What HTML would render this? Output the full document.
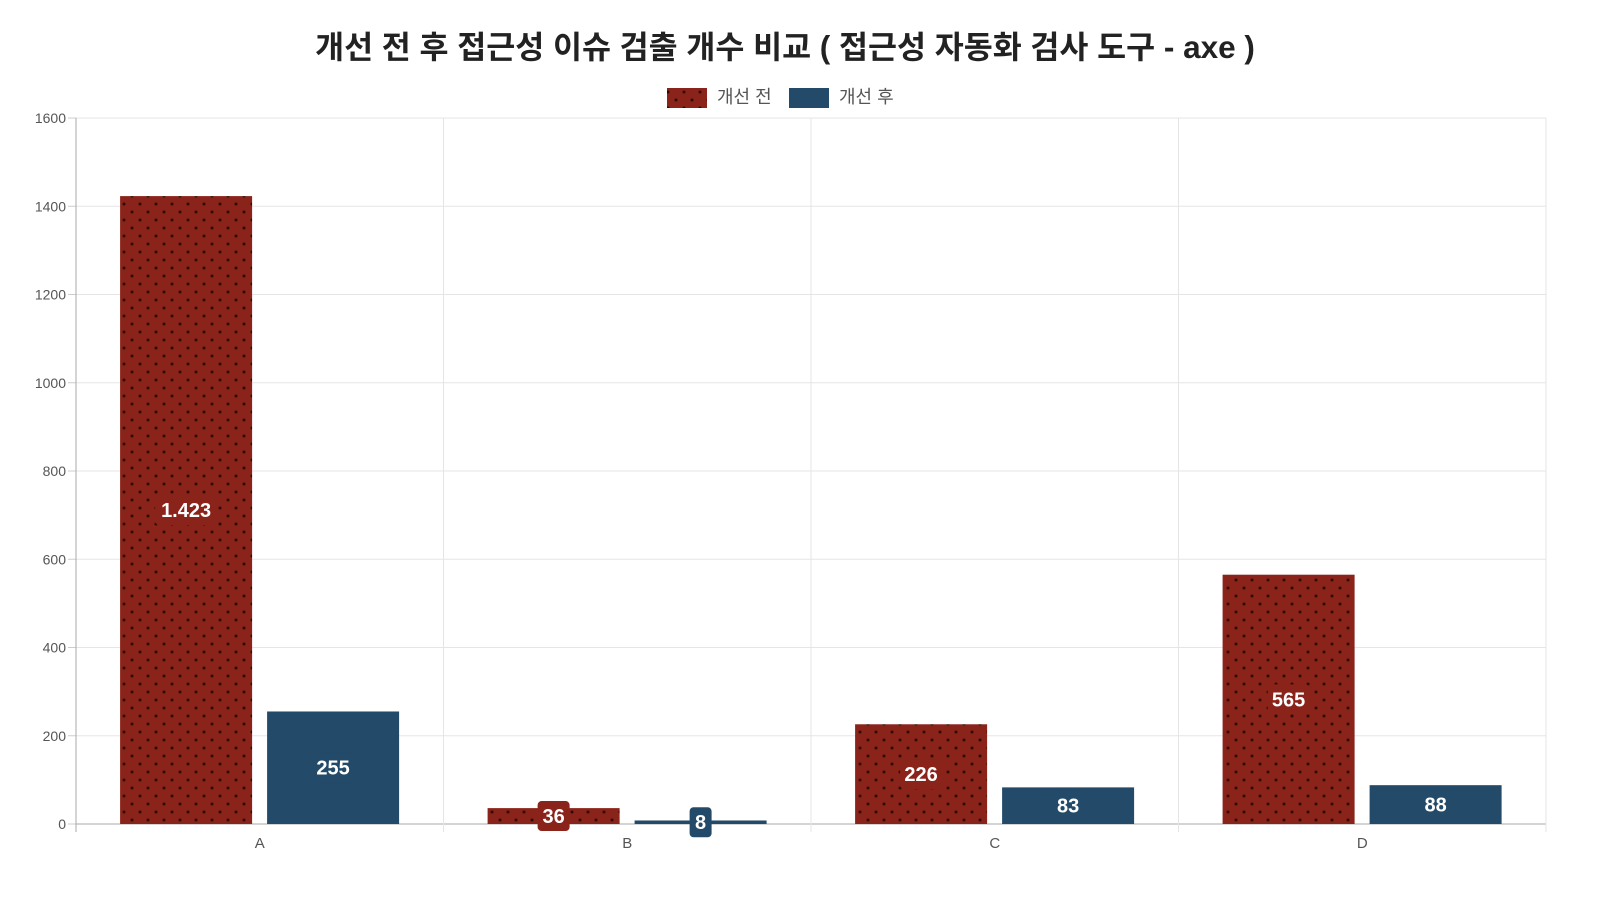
<!DOCTYPE html>
<html><head><meta charset="utf-8"><style>
html,body{margin:0;padding:0;background:#fff;width:1600px;height:900px;overflow:hidden}
svg{display:block;font-family:"Liberation Sans","Noto Sans CJK KR",sans-serif}
</style></head><body>
<svg id="chart" width="1600" height="900">
<defs>
<pattern id="dots" width="16" height="16" patternUnits="userSpaceOnUse">
<rect width="16" height="16" fill="#8a2319"/>
<circle cx="4" cy="4" r="1.5" fill="#2b0a07"/>
<circle cx="12" cy="12" r="1.5" fill="#2b0a07"/>
</pattern>
</defs>
<text x="785" y="58" text-anchor="middle" font-size="31.5" font-weight="bold" fill="#222">개선 전 후 접근성 이슈 검출 개수 비교 ( 접근성 자동화 검사 도구 - axe )</text>
<g>
<rect x="667" y="88" width="40" height="20" fill="url(#dots)"/>
<text x="717" y="103" font-size="18" fill="#555">개선 전</text>
<rect x="789" y="88" width="40" height="20" fill="#234b69"/>
<text x="839" y="103" font-size="18" fill="#555">개선 후</text>
</g>
<g id="grid"></g><g id="bars"></g><g id="labels"></g>
</svg>
<script>
const categories = ["A","B","C","D"];
const before = [1423, 36, 226, 565];
const after = [255, 8, 83, 88];
const beforeLabels = ["1.423","36","226","565"];
const afterLabels = ["255","8","83","88"];
const yTicks = [0,200,400,600,800,1000,1200,1400,1600];
const NS="http://www.w3.org/2000/svg";
const L=76,R=1546,T=118,B=824,yMax=1600;
const y=v=>B-(v/yMax)*(B-T);
const bw=(R-L)/categories.length;
const x=i=>L+i*bw;
function mk(tag,attrs,parent){const e=document.createElementNS(NS,tag);for(const k in attrs)e.setAttribute(k,attrs[k]);parent.appendChild(e);return e;}
const grid=document.getElementById('grid'),bars=document.getElementById('bars'),labels=document.getElementById('labels');
yTicks.forEach(t=>{
  const l=mk('line',{x1:L,x2:R,y1:y(t),y2:y(t),stroke:t===0?'#aaa':'#e5e5e5'},grid);
  
  
  mk('line',{x1:L-8,x2:L,y1:y(t),y2:y(t),stroke:'#ccc'},grid);
  const tx=mk('text',{x:L-10,y:y(t)+5,'text-anchor':'end','font-size':14,fill:'#555'},grid);
  tx.textContent=t;
  
  
});
for(let i=0;i<=categories.length;i++){
  mk('line',{x1:x(i),x2:x(i),y1:T,y2:B+8,stroke:i===0?'#aaa':'#e5e5e5'},grid);
}
categories.forEach((c,i)=>{
  const tx=mk('text',{x:x(i)+bw/2,y:B+24,'text-anchor':'middle','font-size':15,fill:'#555'},grid);
  tx.textContent=c;
  
  
  const w=132;
  [[before[i],'url(#dots)','#8a2319',x(i)+bw*0.12,beforeLabels[i],'bar-before'],[after[i],'#234b69','#234b69',x(i)+bw*0.52,afterLabels[i],'bar-after']].forEach(([v,fill,bg,bx,lab,name])=>{
    const top=y(v);
    const r=mk('rect',{x:bx,y:top,width:w,height:B-top,fill:fill},bars);
    
    
    const cy=(top+B)/2;
    const tw=lab.length*10+12;
    mk('rect',{x:bx+w/2-tw/2,y:cy-15,width:tw,height:30,rx:4,fill:bg},labels);
    const t=mk('text',{x:bx+w/2,y:cy+7,'text-anchor':'middle','font-size':20,'font-weight':'bold',fill:'#fff'},labels);
    t.textContent=lab;
    
    
  });
});
</script>
</body></html>
